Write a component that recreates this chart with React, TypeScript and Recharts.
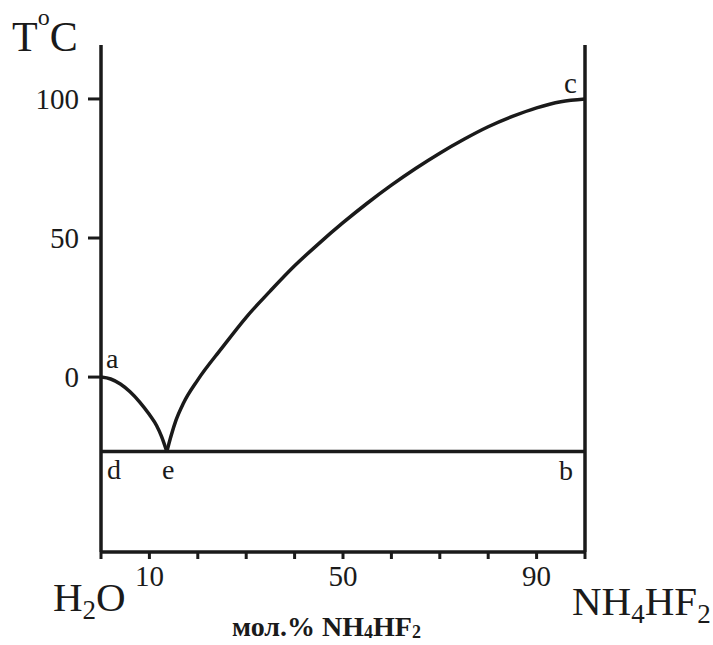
import React from 'react';
import { LineChart, Line, XAxis, YAxis, ReferenceLine } from 'recharts';

// Liquidus branch a–e (ice crystallisation)
const iceX = [0, 2, 4, 6, 8, 10, 11.5, 12.5, 13.6];
const iceT = [0, -0.7, -2.5, -5.3, -9.0, -13.5, -17.5, -21.3, -26.8];

// Liquidus branch e–c (NH4HF2 crystallisation)
const saltX = [13.6, 14.5, 15.5, 17, 20, 25, 30, 35, 40, 45, 50, 55, 60, 65, 70, 75, 80, 85, 90, 95, 100];
const saltT = [-26.8, -21, -15.5, -9.5, -1, 10.5, 21.5, 31, 40, 48, 55.5, 62.5, 69, 75, 80.5, 85.5, 90, 93.7, 96.8, 99, 100];

// Eutectic line d–e–b
const eutX = [0, 100];
const eutT = [-26.8, -26.8];

const xTicks = [0, 10, 20, 30, 40, 50, 60, 70, 80, 90, 100];
const xTickLabels = [10, 50, 90];
const yTicks = [0, 50, 100];
const yDomain = [-62.9, 119.4];

const toPts = (xs: number[], ts: number[]) => xs.map((x, i) => ({ x, t: ts[i] }));

const INK = '#1a1a1a';
const FONT = "'Liberation Serif', 'Times New Roman', serif";

export default function App() {
  return (
    <div
      style={{
        position: 'absolute',
        left: 0,
        top: 0,
        width: 713,
        height: 645,
        background: '#fff',
        fontFamily: FONT,
      }}
    >
      <LineChart
        width={713}
        height={645}
        margin={{ top: 45, right: 128, bottom: 53, left: 0 }}
        style={{ position: 'absolute', left: 0, top: 0, fontFamily: FONT }}
      >
        <XAxis
          type="number"
          dataKey="x"
          domain={[0, 100]}
          ticks={xTicks}
          allowDataOverflow
          height={40}
          tickSize={7}
          tickMargin={6}
          axisLine={{ stroke: INK, strokeWidth: 3.5 }}
          tickLine={{ stroke: INK, strokeWidth: 3 }}
          tick={{ fill: INK, fontSize: 29, fontFamily: FONT, style: { fontFamily: FONT } }}
          tickFormatter={(v: number) => (xTickLabels.includes(v) ? String(v) : '')}
          interval={0}
        />
        <YAxis
          type="number"
          dataKey="t"
          domain={yDomain}
          ticks={yTicks}
          allowDataOverflow
          width={101}
          tickSize={13}
          tickMargin={9}
          axisLine={{ stroke: INK, strokeWidth: 3.5 }}
          tickLine={{ stroke: INK, strokeWidth: 3 }}
          tick={{ fill: INK, fontSize: 29, fontFamily: FONT, style: { fontFamily: FONT } }}
          interval={0}
        />
        <ReferenceLine x={100} stroke={INK} strokeWidth={3.5} />
        <Line
          data={toPts(eutX, eutT)}
          dataKey="t"
          type="linear"
          stroke={INK}
          strokeWidth={3.5}
          dot={false}
          isAnimationActive={false}
        />
        <Line
          data={toPts(iceX, iceT)}
          dataKey="t"
          type="monotone"
          stroke={INK}
          strokeWidth={3.5}
          dot={false}
          isAnimationActive={false}
        />
        <Line
          data={toPts(saltX, saltT)}
          dataKey="t"
          type="monotone"
          stroke={INK}
          strokeWidth={3.5}
          dot={false}
          isAnimationActive={false}
        />
      </LineChart>
      <svg
        width={713}
        height={645}
        style={{ position: 'absolute', left: 0, top: 0, pointerEvents: 'none', fontFamily: FONT }}
        fill={INK}
      >
        <text x={12} y={51} fontSize={42}>
          T<tspan dy={-26} fontSize={24}>o</tspan>
          <tspan dy={26} fontSize={42}>C</tspan>
        </text>
        <text x={106} y={368} fontSize={28}>a</text>
        <text x={564} y={93} fontSize={29}>c</text>
        <text x={107} y={479} fontSize={28}>d</text>
        <text x={162} y={479} fontSize={28}>e</text>
        <text x={559} y={480} fontSize={28}>b</text>
        <text x={53} y={611} fontSize={41}>
          H<tspan dy={8} fontSize={27}>2</tspan>
          <tspan dy={-8} fontSize={41}>O</tspan>
        </text>
        <text x={572} y={615} fontSize={41}>
          NH<tspan dy={8} fontSize={27}>4</tspan>
          <tspan dy={-8} fontSize={41}>HF</tspan>
          <tspan dy={8} fontSize={27}>2</tspan>
        </text>
        <text x={232} y={636} fontSize={28} fontWeight="bold">
          мол.% NH<tspan dy={2} fontSize={18}>4</tspan>
          <tspan dy={-2} fontSize={28}>HF</tspan>
          <tspan dy={2} fontSize={18}>2</tspan>
        </text>
      </svg>
    </div>
  );
}
